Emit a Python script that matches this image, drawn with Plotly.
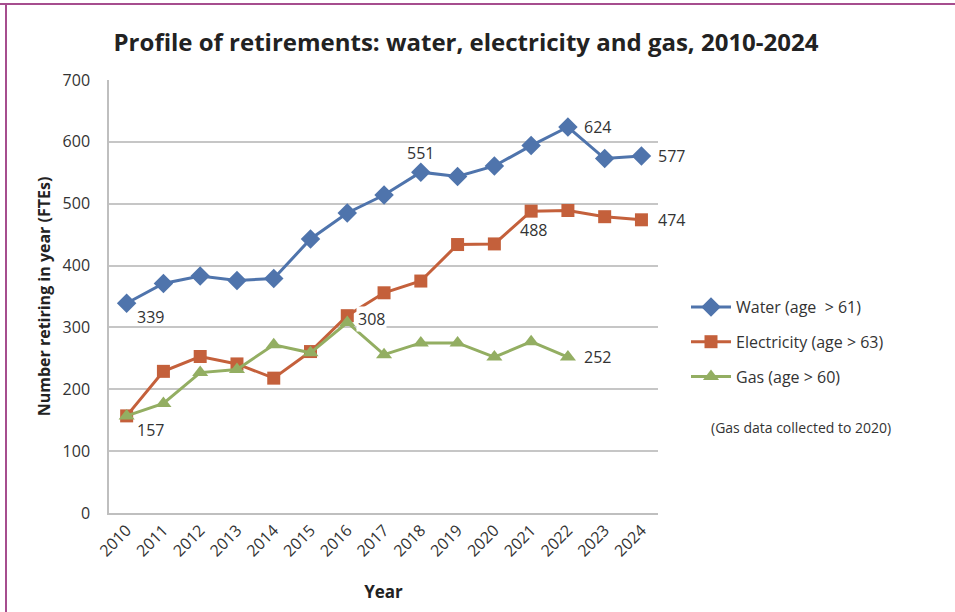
import plotly.graph_objects as go

years = list(range(2010, 2025))
water = [339, 371, 383, 376, 379, 443, 485, 514, 551, 544, 561, 594, 624, 573, 577]
electricity = [157, 229, 253, 241, 218, 261, 319, 356, 375, 434, 435, 488, 489, 479, 474]
gas_years = list(range(2010, 2023))
gas = [157, 177, 227, 232, 272, 259, 308, 256, 275, 275, 252, 277, 252]

names = ["Water (age  > 61)", "Electricity (age > 63)", "Gas (age > 60)"]
colors = ["#4f74ac", "#c4603b", "#93ae62"]
y_ticks = [0, 100, 200, 300, 400, 500, 600, 700]

FONT = "Open Sans"
L, R, T, B = 109, 297, 80, 99
PW, PH = 955 - L - R, 612 - T - B

fig = go.Figure()
fig.add_trace(go.Scatter(x=years, y=water, name=names[0], mode="lines+markers", legendgroup="w",
                         line=dict(color=colors[0], width=3),
                         marker=dict(symbol="diamond", size=15, color=colors[0])))
fig.add_trace(go.Scatter(x=years, y=electricity, name=names[1], mode="lines+markers", legendgroup="e",
                         line=dict(color=colors[1], width=3),
                         marker=dict(symbol="square", size=13, color=colors[1])))
fig.add_trace(go.Scatter(x=gas_years, y=gas, name=names[2], mode="lines+markers", legendgroup="g",
                         line=dict(color=colors[2], width=3),
                         marker=dict(symbol="triangle-up", size=14, color=colors[2])))

labels = [
    (2010, water[0], 24, -14, False),
    (2010, gas[0], 24, -14, False),
    (2016, gas[6], 24, 3, True),
    (2018, water[8], 0, 19, False),
    (2022, water[12], 30, 0, False),
    (2024, water[14], 30, 0, False),
    (2021, electricity[11], 2, -19, False),
    (2024, electricity[14], 30, 0, False),
    (2022, gas[12], 30, 0, False),
]
for x, y, xs, ys, bg in labels:
    fig.add_annotation(x=x, y=y, text=str(y), showarrow=False, xshift=xs, yshift=ys,
                       font=dict(family=FONT, size=16, color="#333333"),
                       bgcolor="white" if bg else None)

fig.add_annotation(xref="paper", yref="paper", x=(709 - L) / PW, y=(513 - 427) / PH,
                   xanchor="left", yanchor="middle", showarrow=False,
                   text="(Gas data collected to 2020)",
                   font=dict(family=FONT, size=14, color="#333333"))

# outer frame lines (top and left)
fig.add_shape(type="line", xref="paper", yref="paper",
              x0=(0 - L) / PW, x1=(955 - L) / PW, y0=(513 - 4) / PH, y1=(513 - 4) / PH,
              line=dict(color="#a64d8e", width=2))
fig.add_shape(type="line", xref="paper", yref="paper",
              x0=(6 - L) / PW, x1=(6 - L) / PW, y0=(513 - 612) / PH, y1=(513 - 4) / PH,
              line=dict(color="#a64d8e", width=2))

fig.update_layout(
    width=955, height=612,
    margin=dict(l=L, r=R, t=T, b=B),
    paper_bgcolor="white", plot_bgcolor="white",
    title=dict(text="<b>Profile of retirements: water, electricity and gas, 2010-2024</b>",
               x=(117 + 815) / 2 / 955, xanchor="center", y=1 - 43 / 612, yanchor="middle",
               font=dict(family=FONT, size=24, color="#222222")),
    showlegend=True,
    legend=dict(x=(686 - L) / PW, y=(513 - 290) / PH, xanchor="left", yanchor="top",
                font=dict(family=FONT, size=16, color="#333333"),
                bgcolor="rgba(0,0,0,0)", tracegroupgap=11, itemwidth=40),
    xaxis=dict(range=[2009.52, 2024.45], tickmode="array", tickvals=years,
               ticktext=[str(y) for y in years], tickangle=-45,
               showgrid=False, zeroline=False,
               showline=True, linecolor="#bfbfbf", linewidth=1.5,
               ticks="", tickfont=dict(family=FONT, size=16, color="#333333"),
               title=dict(text="<b>Year</b>", font=dict(family=FONT, size=17, color="#222222"),
                          standoff=26)),
    yaxis=dict(range=[0, 700], tickmode="array", tickvals=y_ticks,
               showgrid=True, gridcolor="#c6c6c6", gridwidth=1.5, zeroline=False,
               showline=True, linecolor="#bfbfbf", linewidth=1.5,
               ticks="", ticklabelstandoff=14,
               tickfont=dict(family=FONT, size=16, color="#333333"),
               title=dict(text="<b>Number retiring in year (FTEs)</b>",
                          font=dict(family=FONT, size=16, color="#222222"), standoff=8)),
)

fig.write_html("out.html")
